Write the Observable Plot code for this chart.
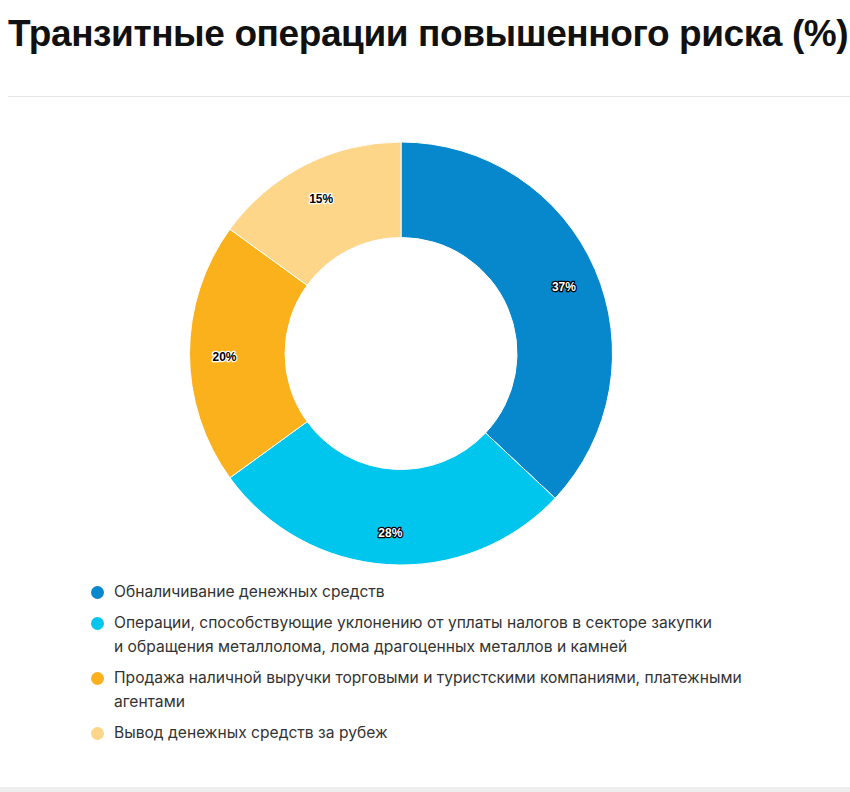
<!DOCTYPE html>
<html>
<head>
<meta charset="utf-8">
<script src="https://cdn.jsdelivr.net/npm/d3@7"></script>
<script src="https://cdn.jsdelivr.net/npm/@observablehq/plot@0.6"></script>
<style>
  html, body { margin: 0; padding: 0; background: #fff; }
  body { width: 850px; height: 792px; position: relative; overflow: hidden; }
  #title { position: absolute; left: 8px; top: 13px; margin: 0; font: 700 37px "Liberation Sans", Arial, sans-serif; color: #111; white-space: nowrap; letter-spacing: -0.4px; }
  #rule { position: absolute; left: 8px; right: 0; top: 96px; height: 1px; background: #e6e6e6; }
  #bottomrule { position: absolute; left: 0; right: 0; top: 787px; height: 5px; background: #eeeeee; }
  #chart { position: absolute; left: 0; top: 110px; }
  #legend { position: absolute; left: 90px; top: 580px; font: 400 15.6px Inter, "Noto Sans", sans-serif; color: #333; }
  .item { position: relative; padding-left: 24px; line-height: 24px; margin-bottom: 7px; white-space: nowrap; }
  .dot { position: absolute; left: 1px; top: 6px; width: 13px; height: 13px; border-radius: 50%; }
</style>
</head>
<body>
<h1 id="title">Транзитные операции повышенного риска (%)</h1>
<div id="rule"></div>
<div id="chart"></div>
<div id="legend"></div>
<div id="bottomrule"></div>
<script>
// ---- data ----
const categories = [
  "Обналичивание денежных средств",
  "Операции, способствующие уклонению от уплаты налогов в секторе закупки\nи обращения металлолома, лома драгоценных металлов и камней",
  "Продажа наличной выручки торговыми и туристскими компаниями, платежными\nагентами",
  "Вывод денежных средств за рубеж"
];
const values = [37, 28, 20, 15];
const valueLabels = ["37%", "28%", "20%", "15%"];
const colors = ["#0787cc", "#00c6ee", "#fbb11c", "#fed689"];
const labelFill = ["#ffffff", "#ffffff", "#000000", "#000000"];
const labelHalo = ["#000000", "#000000", "#ffffff", "#ffffff"];

// ---- geometry ----
const cx = 401, cy = 243.5, R = 211.5;
const innerRatio = 116 / 211.5;
const labelRatio = 177 / 211.5;

const data = categories.map((c, i) => ({category: c, value: values[i], label: valueLabels[i], i}));
const pie = d3.pie().sort(null).value(d => d.value)(data);
pie.forEach(p => {
  const a = (p.startAngle + p.endAngle) / 2;
  p.lx = Math.sin(a) * labelRatio;
  p.ly = Math.cos(a) * labelRatio;
});

const colorScale = Plot.scale({color: {type: "ordinal", domain: categories, range: colors}});

function arcMark(index, scales) {
  const x0 = scales.x(0), y0 = scales.y(0), r = scales.x(1) - x0;
  const col = scales.color ? scales.color : (c => colorScale.apply(c));
  const arc = d3.arc().innerRadius(r * innerRatio).outerRadius(r);
  const g = d3.create("svg:g").attr("transform", `translate(${x0},${y0})`);
  g.selectAll("path").data(pie).join("path")
    .attr("d", arc)
    .attr("fill", d => col(d.data.category))
    .attr("stroke", "#ffffff")
    .attr("stroke-width", 1)
    .attr("stroke-linejoin", "round");
  return g.node();
}

const chart = Plot.plot({
  width: 850,
  height: 470,
  margin: 0,
  style: {background: "transparent", overflow: "visible"},
  x: {domain: [-1, 1], range: [cx - R, cx + R], axis: null},
  y: {domain: [-1, 1], range: [cy + R, cy - R], axis: null},
  color: {type: "ordinal", domain: categories, range: colors},
  marks: [
    arcMark,
    Plot.text(pie, {
      x: d => d.lx,
      y: d => d.ly,
      dy: 3,
      text: d => d.data.label,
      fill: d => labelFill[d.data.i],
      stroke: d => labelHalo[d.data.i],
      strokeWidth: 2.5,
      fontSize: 12,
      fontWeight: 700,
      fontFamily: "Liberation Sans, Arial, sans-serif"
    })
  ]
});
document.getElementById("chart").appendChild(chart);

// ---- legend ----
const legend = d3.select("#legend");
categories.forEach(c => {
  const item = legend.append("div").attr("class", "item");
  item.append("span").attr("class", "dot").style("background", colorScale.apply(c));
  const t = item.append("span");
  c.split("\n").forEach((line, k) => {
    if (k) t.append("br");
    t.append("span").text(line);
  });
});
</script>
</body>
</html>
